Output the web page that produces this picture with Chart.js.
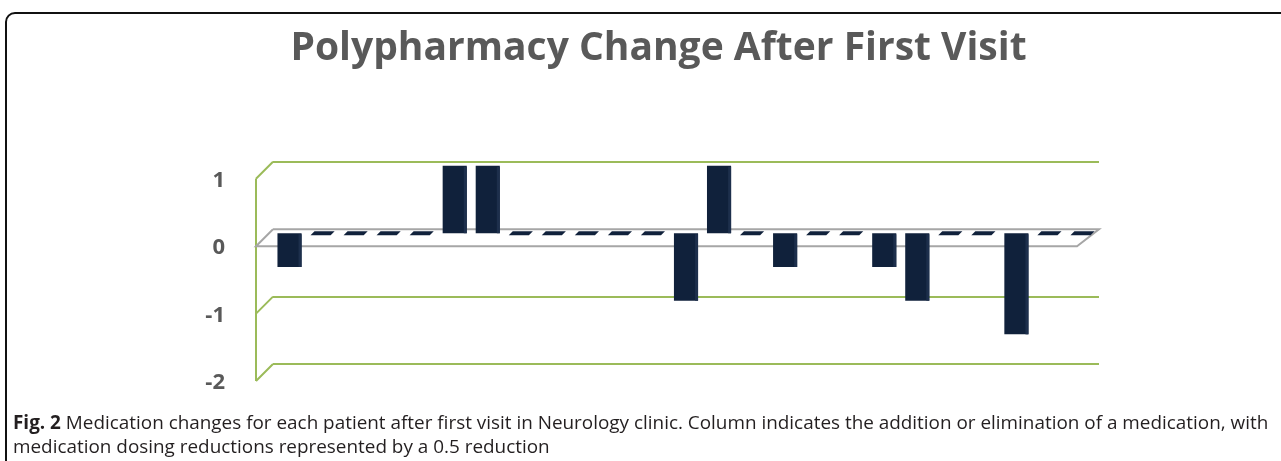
<!DOCTYPE html>
<html>
<head>
<meta charset="utf-8">
<script src="https://cdn.jsdelivr.net/npm/chart.js@4.4.0/dist/chart.umd.min.js"></script>
<style>
  html, body { margin: 0; padding: 0; background: #fff; overflow: hidden; }
  #wrap { position: relative; width: 1281px; height: 461px; }
  #frame {
    position: absolute; left: 5px; top: 12px; right: -20px; bottom: -20px;
    border: 2px solid #111; border-radius: 10px;
  }
  #chart { position: absolute; left: 0; top: 0; }
  #caption {
    position: absolute; left: 13px; top: 410px; width: 1268px;
    font-family: "Open Sans", sans-serif;
    font-size: 18.9px; line-height: 24px; color: #231f20;
  }
  #caption b { font-weight: bold; }
</style>
</head>
<body>
<div id="wrap">
  <div id="frame"></div>
  <canvas id="chart" width="1281" height="461"></canvas>
  <div id="caption"><b>Fig. 2</b> Medication changes for each patient after first visit in Neurology clinic. Column indicates the addition or elimination of a medication, with medication dosing reductions represented by a 0.5 reduction</div>
</div>
<script>
// one value per patient (change in number of medications)
const patients = ['1','2','3','4','5','6','7','8','9','10','11','12','13','14','15','16','17','18','19','20','21','22','23','24','25'];
const medChange = [-0.5, 0, 0, 0, 0, 1, 1, 0, 0, 0, 0, 0, -1, 1, 0, -0.5, 0, 0, -0.5, -1, 0, 0, -1.5, 0, 0];
const yTicks = [1, 0, -1, -2];

const titleText = 'Polypharmacy Change After First Visit';
const barColor = '#10213b';
const gridGreen = '#9bbb59';

// fake 3D: front axis, oblique gridline ends, floor plane and flat zero bars
const depthPlugin = {
  id: 'depth',
  beforeDatasetsDraw(chart) {
    const { ctx, chartArea, scales } = chart;
    const y = scales.y;
    const dx = 17, dy = 17;
    const fx = chartArea.left - dx;
    ctx.save();
    ctx.strokeStyle = gridGreen;
    ctx.lineWidth = 2;
    ctx.beginPath();
    ctx.moveTo(fx, y.getPixelForValue(1) + dy);
    ctx.lineTo(fx, y.getPixelForValue(-2) + dy);
    yTicks.forEach(v => {
      if (v === 0) return;
      ctx.moveTo(fx, y.getPixelForValue(v) + dy);
      ctx.lineTo(chartArea.left, y.getPixelForValue(v));
    });
    ctx.stroke();
    // floor at zero
    const z = y.getPixelForValue(0);
    ctx.strokeStyle = '#a6a6a6';
    ctx.lineWidth = 2;
    ctx.beginPath();
    ctx.moveTo(chartArea.left, z);
    ctx.lineTo(chartArea.right, z);
    ctx.lineTo(chartArea.right - dx - 5, z + dy);
    ctx.lineTo(fx, z + dy);
    ctx.lineTo(chartArea.left, z);
    ctx.stroke();
    ctx.restore();
  },
  afterDatasetsDraw(chart) {
    const { ctx, scales } = chart;
    const meta = chart.getDatasetMeta(0);
    const z = scales.yb.getPixelForValue(0);
    ctx.save();
    meta.data.forEach((bar, i) => {
      const v = medChange[i];
      const half = bar.width / 2;
      if (v === 0) {
        ctx.fillStyle = barColor;
        ctx.beginPath();
        ctx.moveTo(bar.x - half, z + 2);
        ctx.lineTo(bar.x + half - 4, z + 2);
        ctx.lineTo(bar.x + half, z - 2);
        ctx.lineTo(bar.x - half + 4, z - 2);
        ctx.closePath();
        ctx.fill();
      } else {
        // thin right side face
        ctx.fillStyle = '#1d2f4c';
        const top = Math.min(bar.y, bar.base);
        const bot = Math.max(bar.y, bar.base);
        ctx.fillRect(bar.x + half - 3, top + 1, 3, bot - top - 1);
      }
    });
    ctx.restore();
  }
};

new Chart(document.getElementById('chart'), {
  type: 'bar',
  data: {
    labels: patients,
    datasets: [{
      data: medChange,
      yAxisID: 'yb',
      backgroundColor: barColor,
      borderWidth: 0,
      barPercentage: 0.73,
      categoryPercentage: 1
    }]
  },
  options: {
    responsive: false,
    animation: false,
    layout: { padding: { left: 36, right: 0, top: 0, bottom: 97 } },
    plugins: {
      legend: { display: false },
      tooltip: { enabled: false },
      title: {
        display: true,
        text: titleText,
        color: '#595959',
        font: { family: 'Open Sans', size: 39, weight: 'bold', lineHeight: 1.2 },
        padding: { top: 25, bottom: 90 }
      }
    },
    scales: {
      x: { display: false },
      y: {
        min: -2,
        max: 1,
        afterFit: s => { s.width = 237; },
        afterBuildTicks: s => { s.ticks = yTicks.map(v => ({ value: v })); },
        border: { display: false },
        grid: {
          drawTicks: false,
          lineWidth: 2,
          color: c => c.tick && c.tick.value === 0 ? 'rgba(0,0,0,0)' : gridGreen
        },
        ticks: {
          padding: 48,
          labelOffset: 19,
          color: '#595959',
          font: { family: 'Open Sans', size: 22, weight: 'bold' }
        }
      },
      // bars sit slightly in front of the back wall
      yb: {
        position: 'right',
        min: -1.94,
        max: 1.06,
        afterFit: s => { s.width = 182; },
        border: { display: false },
        grid: { display: false },
        ticks: { display: false }
      }
    }
  },
  plugins: [depthPlugin]
});
</script>
</body>
</html>
